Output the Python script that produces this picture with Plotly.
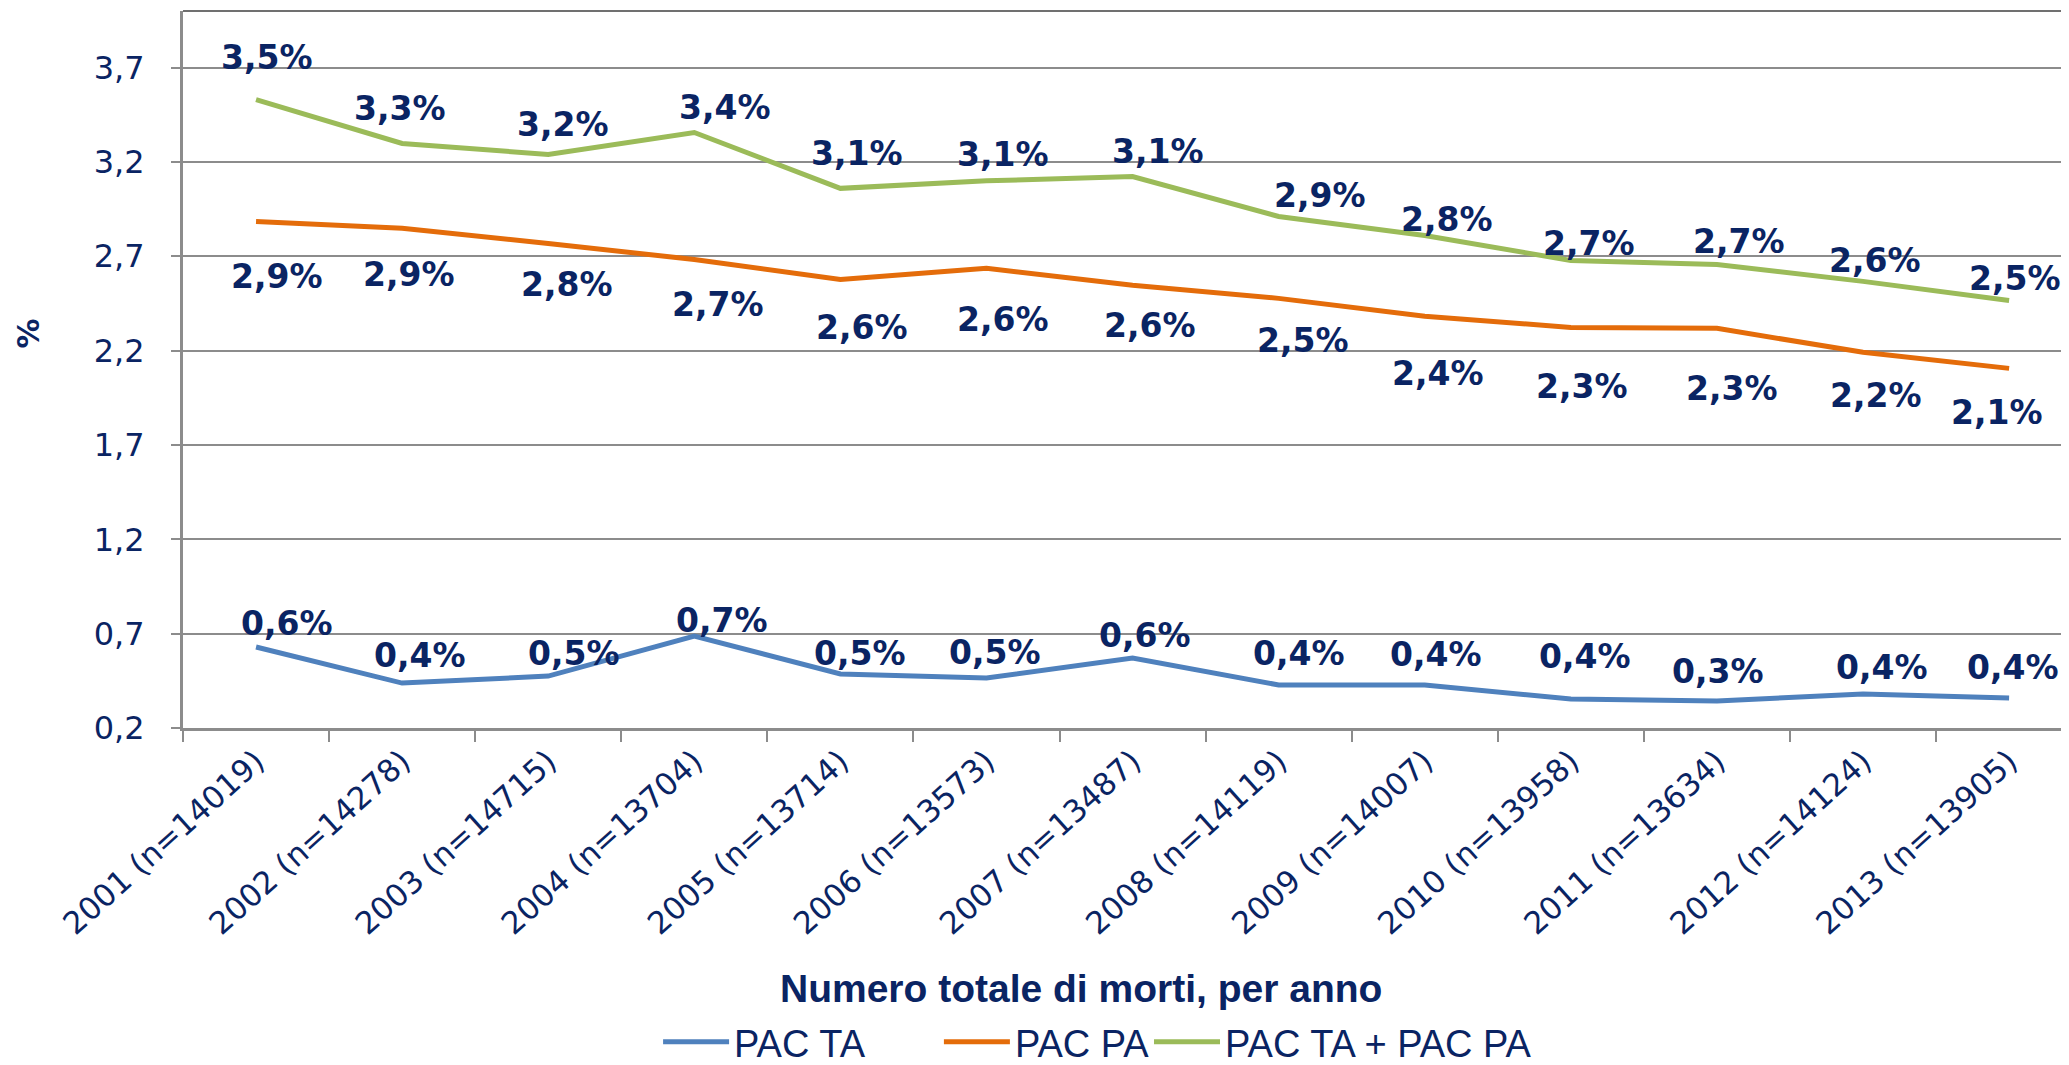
import plotly.graph_objects as go

categories = ["2001 (n=14019)", "2002 (n=14278)", "2003 (n=14715)", "2004 (n=13704)",
              "2005 (n=13714)", "2006 (n=13573)", "2007 (n=13487)", "2008 (n=14119)",
              "2009 (n=14007)", "2010 (n=13958)", "2011 (n=13634)", "2012 (n=14124)",
              "2013 (n=13905)"]

pac_ta = [0.629, 0.438, 0.475, 0.687, 0.486, 0.465, 0.571, 0.428, 0.428, 0.354, 0.343, 0.38, 0.359]
pac_pa = [2.885, 2.848, 2.768, 2.683, 2.577, 2.636, 2.546, 2.477, 2.382, 2.323, 2.318, 2.191, 2.106]
pac_tot = [3.53, 3.298, 3.24, 3.356, 3.06, 3.10, 3.123, 2.911, 2.81, 2.678, 2.657, 2.567, 2.466]

lab_ta = ["0,6%", "0,4%", "0,5%", "0,7%", "0,5%", "0,5%", "0,6%", "0,4%", "0,4%", "0,4%", "0,3%", "0,4%", "0,4%"]
lab_pa = ["2,9%", "2,9%", "2,8%", "2,7%", "2,6%", "2,6%", "2,6%", "2,5%", "2,4%", "2,3%", "2,3%", "2,2%", "2,1%"]
lab_tot = ["3,5%", "3,3%", "3,2%", "3,4%", "3,1%", "3,1%", "3,1%", "2,9%", "2,8%", "2,7%", "2,7%", "2,6%", "2,5%"]

y_ticks = [0.2, 0.7, 1.2, 1.7, 2.2, 2.7, 3.2, 3.7]
y_tick_text = ["0,2", "0,7", "1,2", "1,7", "2,2", "2,7", "3,2", "3,7"]

# label placement offsets in pixels (style: screen-space nudges of each data label)
dx_ta = [31, 18, 26, 28, 20, 9, 12, 20, 11, 14, 1, 19, 4]
dy_ta = [24, 28, 23, 16, 21, 26, 23, 31, 30, 42, 30, 27, 31]
dx_pa = [21, 7, 19, 24, 22, 17, 17, 24, 13, 11, 15, 13, -12]
dy_pa = [-55, -46, -41, -45, -48, -51, -40, -42, -57, -59, -60, -43, -44]
dx_tot = [11, -2, 15, 31, 17, 17, 25, 41, 22, 18, 22, 12, 6]
dy_tot = [42, 35, 30, 25, 35, 26, 25, 21, 16, 17, 23, 21, 22]

NAVY = "#0a2463"
BLUE = "#4f81bd"
ORANGE = "#e46c0a"
GREEN = "#9bbb59"
GRID = "#8c8c8c"

fig = go.Figure()
series = [
    ("PAC TA", pac_ta, lab_ta, BLUE, dx_ta, dy_ta, "legend"),
    ("PAC PA", pac_pa, lab_pa, ORANGE, dx_pa, dy_pa, "legend2"),
    ("PAC TA + PAC PA", pac_tot, lab_tot, GREEN, dx_tot, dy_tot, "legend3"),
]
for name, vals, labs, col, dxs, dys, leg in series:
    fig.add_trace(go.Scatter(x=categories, y=vals, name=name, mode="lines", legend=leg,
                             line=dict(color=col, width=5)))
    for c, v, t, dx, dy in zip(categories, vals, labs, dxs, dys):
        fig.add_annotation(x=c, y=v, text=t, showarrow=False, xshift=dx, yshift=dy,
                           font=dict(family="DejaVu Sans", size=33, color=NAVY, weight="bold"))

fig.add_annotation(text="Numero totale di morti, per anno", xref="paper", yref="paper",
                   x=0.476, y=-0.363, showarrow=False, yanchor="middle",
                   font=dict(family="Liberation Sans", size=39, color=NAVY, weight="bold"))
fig.add_annotation(text="%", xref="paper", yref="paper", x=-0.0817, y=0.55, textangle=-90,
                   showarrow=False, xanchor="center", yanchor="middle",
                   font=dict(family="DejaVu Sans", size=30, color=NAVY, weight="bold"))
fig.add_shape(type="line", xref="paper", yref="paper", x0=0, x1=1, y0=1, y1=1,
              line=dict(color="#404040", width=1.5))

leg_common = dict(orientation="h", xanchor="left", y=-0.438, yanchor="middle",
                  font=dict(family="Liberation Sans", size=38, color=NAVY), itemwidth=66,
                  bgcolor="rgba(0,0,0,0)")

fig.update_layout(
    width=2061, height=1057,
    margin=dict(l=175, r=0, t=3, b=337, autoexpand=False),
    paper_bgcolor="white", plot_bgcolor="white",
    showlegend=True,
    legend=dict(x=0.2519, **leg_common),
    legend2=dict(x=0.4008, **leg_common),
    legend3=dict(x=0.5122, **leg_common),
    xaxis=dict(type="category", range=[-0.5, 12.41], tickson="boundaries", ticks="outside",
               ticklen=11, tickwidth=2, tickcolor=GRID, showline=True, linecolor=GRID, linewidth=3,
               showgrid=False, tickangle=-42, automargin=False,
               tickfont=dict(family="DejaVu Sans", size=31, color=NAVY)),
    yaxis=dict(range=[0.2, 4.0], tickvals=y_ticks, ticktext=y_tick_text, ticks="outside",
               ticklen=9, tickwidth=2, tickcolor=GRID, showline=True, linecolor=GRID, linewidth=3,
               showgrid=True, gridcolor=GRID, gridwidth=2, zeroline=False, ticklabelstandoff=20,
               automargin=False,
               tickfont=dict(family="DejaVu Sans", size=32, color=NAVY)),
)

fig.write_html("out.html")
